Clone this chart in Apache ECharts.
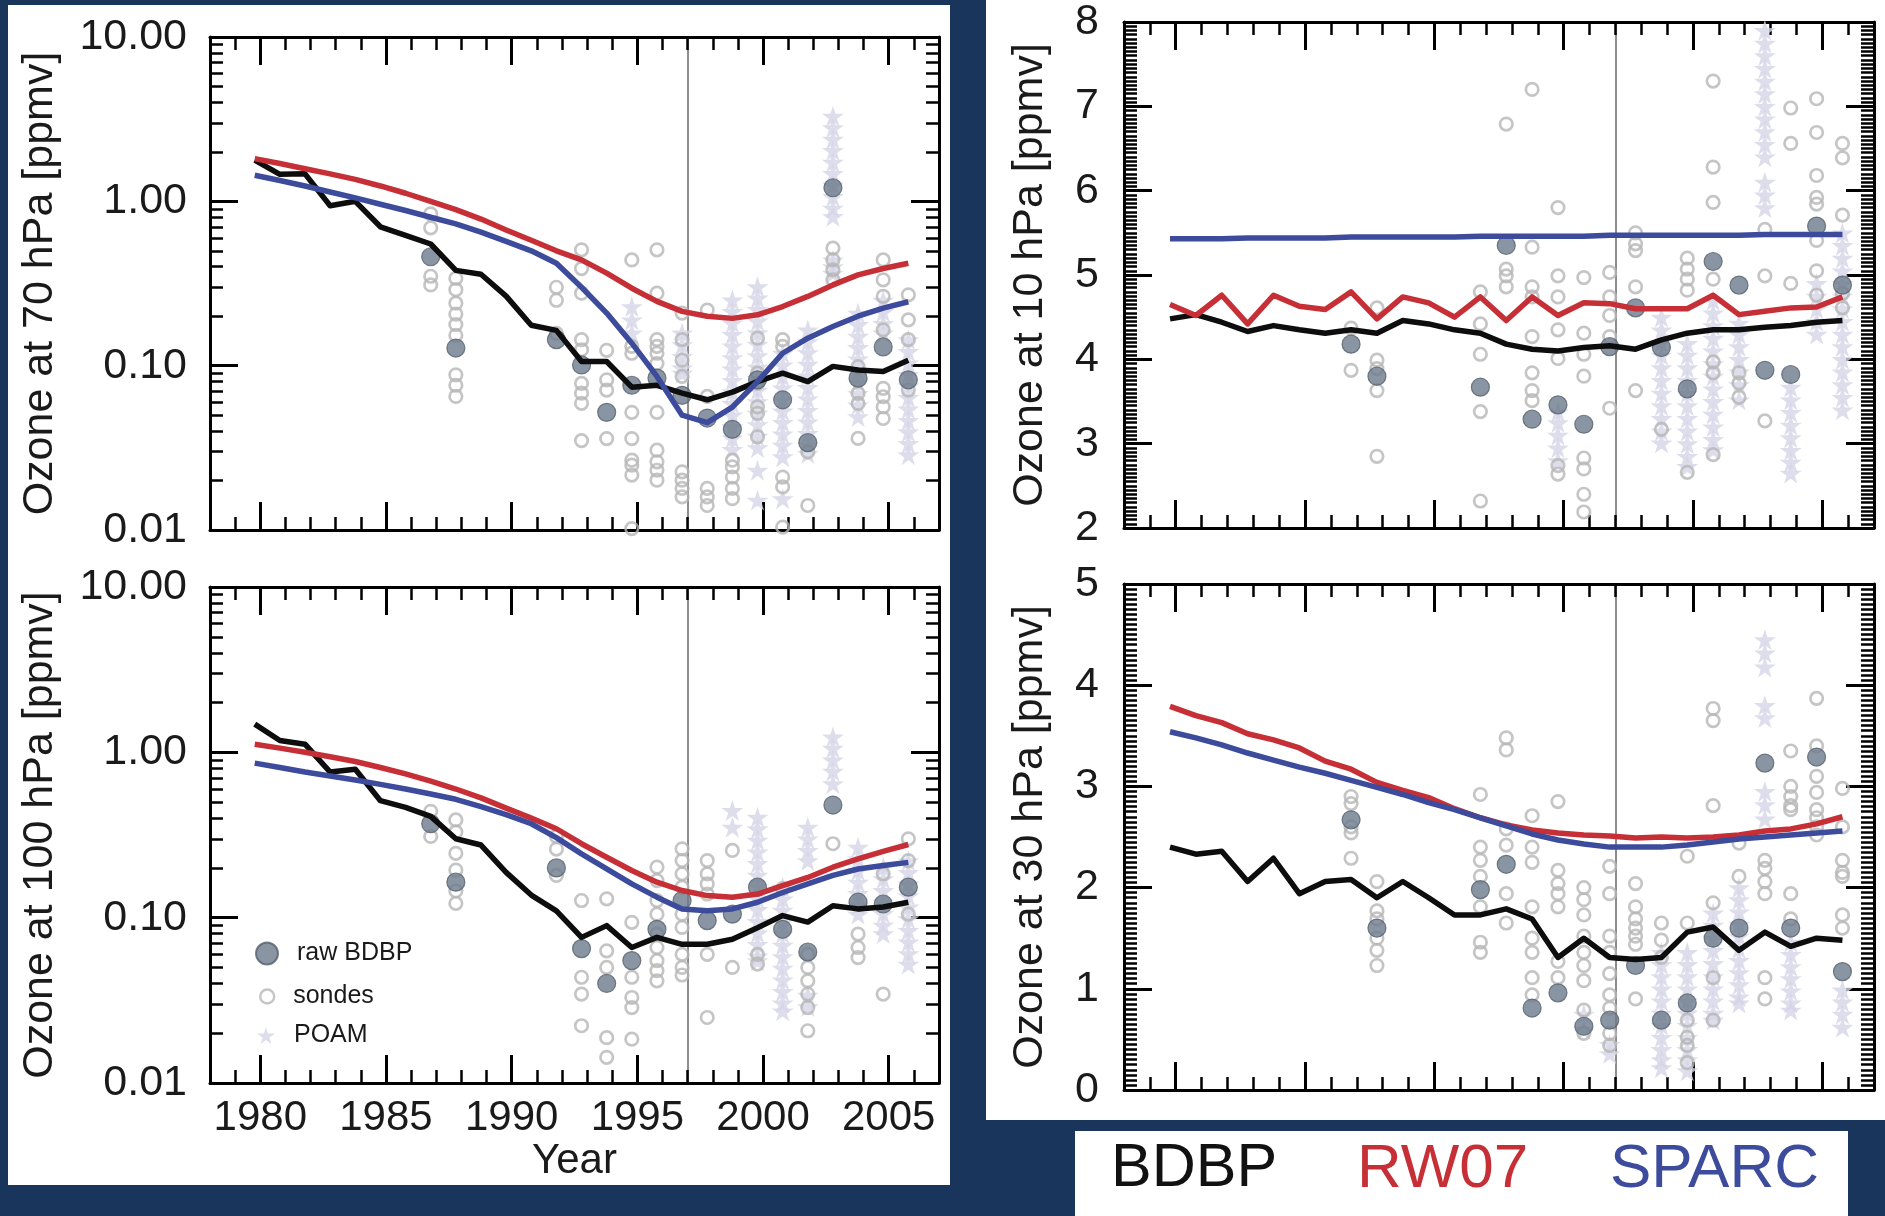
<!DOCTYPE html>
<html><head><meta charset="utf-8">
<script src="https://cdn.jsdelivr.net/npm/echarts@6/dist/echarts.min.js"></script>
<style>html,body{margin:0;padding:0;background:#1a355b;}#chart{width:1885px;height:1216px;}</style>
</head><body><div id="chart"></div>
<script>
// ---------------- DATA ----------------
const YEARS = [1979,1980,1981,1982,1983,1984,1985,1986,1987,1988,1989,1990,1991,1992,1993,1994,1995,1996,1997,1998,1999,2000,2001,2002,2003,2004,2005];
const SEASON_OFFSET = 0.78;   // observations plotted at early spring (fraction of year)
const REF_YEAR = 1997;
const YEAR_TICKS = [1980,1985,1990,1995,2000,2005];
const LOG_TICKS = [0.01,0.1,1,10];

// 70 hPa
const BDBP_70  = [1.78,1.46,1.47,0.94,1.00,0.70,0.62,0.55,0.38,0.36,0.265,0.176,0.164,0.106,0.106,0.074,0.076,0.068,0.062,0.069,0.080,0.090,0.080,0.099,0.094,0.092,0.108];
const RW07_70  = [1.82,1.70,1.58,1.47,1.36,1.24,1.12,1.00,0.89,0.78,0.67,0.58,0.50,0.44,0.366,0.296,0.246,0.214,0.200,0.194,0.204,0.229,0.264,0.310,0.357,0.390,0.420];
const SPARC_70 = [1.44,1.34,1.24,1.14,1.05,0.96,0.88,0.80,0.73,0.65,0.57,0.50,0.42,0.30,0.209,0.137,0.086,0.050,0.045,0.056,0.080,0.119,0.147,0.173,0.200,0.224,0.245];
const RAW_70 = [[1986,0.46],[1987,0.128],[1991,0.144],[1992,0.101],[1993,0.052],[1994,0.076],[1995,0.084],[1996,0.066],[1997,0.048],[1998,0.041],[1999,0.082],[2000,0.062],[2001,0.034],[2002,1.21],[2003,0.084],[2004,0.13],[2005,0.082]];
const SONDES_70 = [
  [1986,[0.84,0.69,0.35,0.31]],
  [1987,[0.34,0.29,0.24,0.206,0.178,0.153,0.088,0.076,0.065]],
  [1991,[0.30,0.25,0.157]],
  [1992,[0.507,0.39,0.276,0.144,0.125,0.078,0.068,0.059,0.035]],
  [1993,[0.124,0.082,0.071,0.036]],
  [1994,[0.44,0.131,0.119,0.052,0.036,0.0266,0.0248,0.0216,0.0102]],
  [1995,[0.507,0.276,0.144,0.131,0.119,0.103,0.052,0.0306,0.026,0.0231,0.0201]],
  [1996,[0.209,0.144,0.108,0.086,0.0226,0.0201,0.0179,0.0159]],
  [1997,[0.218,0.065,0.0179,0.0159,0.0141]],
  [1998,[0.0266,0.0242,0.021,0.0179,0.0155]],
  [1999,[0.147,0.09,0.078,0.0562,0.0512,0.0369]],
  [2000,[0.144,0.131,0.021,0.0183,0.0104]],
  [2001,[0.0299,0.0141]],
  [2002,[0.519,0.44,0.383,0.333]],
  [2003,[0.0986,0.0678,0.0589,0.0361]],
  [2004,[0.44,0.333,0.264,0.165,0.0728,0.0647,0.0562,0.0477]],
  [2005,[0.27,0.19,0.144,0.071]]
];
const POAM_70 = [
  [1994,[0.229,0.19,0.158]],
  [1996,[0.158,0.134,0.114,0.097,0.09]],
  [1998,[0.251,0.214,0.182,0.155,0.132,0.112,0.0955,0.0813,0.0692,0.0589,0.0501,0.0427,0.0363,0.0309]],
  [1999,[0.303,0.258,0.22,0.187,0.159,0.135,0.115,0.098,0.0835,0.071,0.0605,0.0515,0.0438,0.0373,0.0317,0.0231,0.0152]],
  [2000,[0.119,0.101,0.086,0.0733,0.0624,0.0531,0.0452,0.0385,0.0328,0.0279,0.0155]],
  [2001,[0.165,0.14,0.12,0.102,0.0867,0.0738,0.0628,0.0535,0.0455,0.0387,0.033,0.0292]],
  [2002,[3.30,2.81,2.39,2.04,1.73,1.48,1.26,1.07,0.91,0.81,0.44,0.40,0.366]],
  [2003,[0.209,0.178,0.151,0.129,0.11,0.0935,0.0796,0.0678,0.0577,0.049]],
  [2004,[0.25,0.213,0.181,0.158]],
  [2005,[0.144,0.122,0.104,0.0886,0.0754,0.0642,0.0546,0.0465,0.0396,0.0337,0.0287]]
];

// 100 hPa
const BDBP_100  = [1.48,1.18,1.12,0.76,0.79,0.51,0.465,0.41,0.30,0.275,0.188,0.137,0.110,0.076,0.0895,0.066,0.076,0.069,0.069,0.074,0.087,0.103,0.094,0.118,0.113,0.116,0.124];
const RW07_100  = [1.12,1.06,1.00,0.94,0.88,0.81,0.74,0.67,0.60,0.53,0.46,0.40,0.345,0.280,0.232,0.193,0.164,0.146,0.136,0.133,0.139,0.156,0.175,0.202,0.227,0.252,0.277];
const SPARC_100 = [0.86,0.81,0.76,0.72,0.68,0.64,0.60,0.56,0.52,0.47,0.42,0.37,0.305,0.243,0.197,0.160,0.133,0.113,0.110,0.113,0.124,0.142,0.160,0.180,0.197,0.207,0.216];
const RAW_100 = [[1986,0.37],[1987,0.164],[1991,0.20],[1992,0.065],[1993,0.040],[1994,0.055],[1995,0.085],[1996,0.127],[1997,0.096],[1998,0.105],[1999,0.153],[2000,0.085],[2001,0.062],[2002,0.48],[2003,0.124],[2004,0.121],[2005,0.153]];
const SONDES_100 = [
  [1986,[0.44,0.31]],
  [1987,[0.39,0.33,0.245,0.194,0.145,0.122]],
  [1991,[0.31,0.26,0.18]],
  [1992,[0.127,0.0436,0.0345,0.0222]],
  [1993,[0.13,0.063,0.050,0.0188,0.0143]],
  [1994,[0.0937,0.0436,0.0329,0.0286,0.0184]],
  [1995,[0.202,0.1676,0.127,0.105,0.0796,0.066,0.0549,0.0478,0.0415]],
  [1996,[0.261,0.2215,0.184,0.153,0.105,0.0873,0.06,0.05,0.045]],
  [1997,[0.2215,0.184,0.16,0.139,0.06,0.0249]],
  [1998,[0.255,0.05]],
  [1999,[0.06,0.0524]],
  [2000,[0.15]],
  [2001,[0.06,0.05,0.0415,0.0345,0.0286,0.0207]],
  [2002,[0.28]],
  [2003,[0.0796,0.066,0.0574]],
  [2004,[0.184,0.0345]],
  [2005,[0.30,0.2215,0.105]]
];
const POAM_100 = [
  [1998,[0.445,0.353]],
  [1999,[0.406,0.345,0.294,0.25,0.213,0.181,0.154,0.131,0.112,0.095,0.081,0.069,0.0587,0.0549]],
  [2000,[0.153,0.13,0.111,0.0944,0.0803,0.0683,0.0581,0.0495,0.0421,0.0358,0.0305,0.0273]],
  [2001,[0.353,0.3,0.255,0.2215,0.034,0.029]],
  [2002,[1.24,1.06,0.9,0.77,0.646]],
  [2003,[0.267,0.227,0.193,0.164,0.14,0.119,0.105]],
  [2004,[0.202,0.172,0.146,0.124,0.106,0.09,0.08]],
  [2005,[0.2215,0.188,0.16,0.136,0.116,0.0985,0.0838,0.0713,0.0606,0.0524]]
];

// 10 hPa
const BDBP_10  = [4.48,4.53,4.44,4.33,4.40,4.35,4.31,4.35,4.31,4.46,4.42,4.35,4.31,4.18,4.12,4.10,4.14,4.16,4.12,4.23,4.31,4.35,4.35,4.38,4.40,4.44,4.46];
const RW07_10  = [4.65,4.52,4.76,4.42,4.76,4.63,4.59,4.80,4.48,4.74,4.67,4.50,4.74,4.46,4.74,4.52,4.67,4.66,4.60,4.60,4.60,4.76,4.53,4.57,4.61,4.62,4.74];
const SPARC_10 = [5.43,5.43,5.43,5.44,5.44,5.44,5.44,5.45,5.45,5.45,5.45,5.45,5.46,5.46,5.46,5.46,5.46,5.47,5.47,5.47,5.47,5.47,5.47,5.48,5.48,5.48,5.48];
const RAW_10 = [[1986,4.18],[1987,3.80],[1991,3.67],[1992,5.35],[1993,3.29],[1994,3.46],[1995,3.23],[1996,4.15],[1997,4.61],[1998,4.14],[1999,3.65],[2000,5.16],[2001,4.88],[2002,3.87],[2003,3.82],[2004,5.58],[2005,4.88]];
const SONDES_10 = [
  [1986,[4.37,3.87]],
  [1987,[4.61,3.99,3.89,3.63,2.85]],
  [1991,[4.80,4.42,4.06,3.38,2.32]],
  [1992,[6.79,5.07,4.99,4.86]],
  [1993,[7.20,5.33,4.86,4.74,4.27,3.84,3.63,3.51]],
  [1994,[5.80,4.99,4.74,4.35,4.01,2.74,2.64]],
  [1995,[4.97,4.31,4.06,3.80,2.83,2.70,2.40,2.19]],
  [1996,[5.03,4.74,4.52,4.27,3.42]],
  [1997,[5.50,5.37,5.29,4.86,3.63]],
  [1998,[3.17]],
  [1999,[5.20,5.07,4.95,4.82,2.66]],
  [2000,[7.30,6.28,5.86,4.95,3.97,3.84,2.87]],
  [2001,[3.84,3.72,3.55]],
  [2002,[5.54,4.99,3.27]],
  [2003,[6.98,6.56,4.90]],
  [2004,[7.09,6.69,6.18,5.92,5.84,5.41,5.05,4.76]],
  [2005,[6.56,6.39,5.71,4.78,4.61]]
];
const POAM_10 = [
  [1994,[3.38,3.25,3.1,2.95,2.8]],
  [1998,[4.50,4.35,4.2,4.05,3.9,3.75,3.6,3.45,3.3,3.15,3.01]],
  [1999,[4.19,4.05,3.9,3.75,3.6,3.45,3.3,3.15,3.0,2.85,2.73]],
  [2000,[4.70,4.55,4.4,4.25,4.1,3.95,3.8,3.65,3.5,3.35,3.2,3.05,2.93]],
  [2001,[4.43,4.3,4.15,4.0,3.85,3.7,3.52]],
  [2002,[8.05,7.9,7.75,7.6,7.45,7.3,7.15,7.0,6.85,6.7,6.55,6.4,6.1,5.95,5.8]],
  [2003,[3.67,3.52,3.37,3.22,3.07,2.92,2.78,2.65]],
  [2004,[4.9,4.75,4.6,4.45,4.3]],
  [2005,[5.5,5.35,5.2,5.05,4.9,4.75,4.6,4.45,4.3,4.15,4.0,3.85,3.7,3.55,3.4]]
];

// 30 hPa
const BDBP_30  = [2.40,2.33,2.36,2.06,2.29,1.94,2.06,2.08,1.90,2.06,1.90,1.73,1.73,1.79,1.69,1.31,1.50,1.31,1.29,1.31,1.56,1.61,1.38,1.56,1.42,1.50,1.48];
const RW07_30  = [3.79,3.70,3.63,3.52,3.46,3.38,3.25,3.17,3.04,2.96,2.89,2.78,2.69,2.62,2.57,2.54,2.52,2.51,2.49,2.50,2.49,2.50,2.52,2.56,2.58,2.63,2.70];
const SPARC_30 = [3.54,3.48,3.41,3.33,3.26,3.19,3.13,3.06,2.99,2.92,2.84,2.77,2.69,2.61,2.53,2.47,2.43,2.40,2.40,2.40,2.42,2.45,2.48,2.50,2.52,2.54,2.56];
const RAW_30 = [[1986,2.67],[1987,1.60],[1991,1.98],[1992,2.23],[1993,0.81],[1994,0.96],[1995,0.63],[1996,0.69],[1997,1.23],[1998,0.69],[1999,0.86],[2000,1.50],[2001,1.60],[2002,3.23],[2003,1.60],[2004,3.29],[2005,1.17]];
const SONDES_30 = [
  [1986,[2.90,2.83,2.60,2.54,2.29]],
  [1987,[2.06,1.77,1.69,1.50,1.38,1.23]],
  [1991,[2.92,2.40,2.27,2.11,1.81,1.46,1.36]],
  [1992,[3.48,3.36,2.58,2.42,1.94,1.65]],
  [1993,[2.71,2.40,2.25,1.81,1.50,1.36,1.11,0.94]],
  [1994,[2.85,2.17,2.04,1.94,1.81,1.27,1.11]],
  [1995,[2.0,1.88,1.73,1.52,1.36,1.23,1.08,0.79,0.56]],
  [1996,[2.21,1.94,1.52,1.36,1.15,0.94,0.81,0.56,0.44]],
  [1997,[2.04,1.81,1.69,1.60,1.52,1.44,0.90]],
  [1998,[1.65,1.48,1.31]],
  [1999,[2.31,1.65,0.69,0.52,0.44,0.27]],
  [2000,[3.77,3.65,2.81,1.85,1.11,0.69]],
  [2001,[2.44,2.11]],
  [2002,[2.27,2.19,2.06,1.94,1.11,0.90]],
  [2003,[3.35,3.0,2.90,2.81,2.77,1.94,1.69]],
  [2004,[3.87,3.40,3.10,2.94,2.77,2.69,2.60,2.52]],
  [2005,[2.98,2.60,2.27,2.15,2.11,1.73,1.60]]
];
const POAM_30 = [
  [1995,[0.75,0.6]],
  [1996,[0.45,0.36]],
  [1998,[1.36,1.24,1.12,1.0,0.88,0.76,0.64,0.52,0.4,0.3,0.22]],
  [1999,[1.36,1.24,1.12,1.0,0.88,0.76,0.64,0.52,0.4,0.3,0.19]],
  [2000,[1.75,1.63,1.5,1.38,1.25,1.12,1.0,0.88,0.76,0.69]],
  [2001,[2.0,1.88,1.76,1.64,1.52,1.4,1.28,1.16,1.04,0.92,0.86]],
  [2002,[4.45,4.32,4.18,3.8,3.68,2.95,2.82,2.68]],
  [2003,[1.46,1.34,1.22,1.1,0.98,0.86,0.79]],
  [2005,[0.99,0.87,0.75,0.62]]
];

// ---------------- LAYOUT / STYLE ----------------
const FONT = "'Liberation Sans', Arial, Helvetica, sans-serif";
const TXT = '#1a1a1a';
const COLORS = {BDBP:'#0d0d0d', RW07:'#c62f36', SPARC:'#3d4b9c', raw:'#6c7b8b', sonde:'#b6b6b6', poam:'#d4d5e7', ref:'#8c8c8c'};
const STAR = 'path://M50,0 L61,35 L98,35 L68,57 L79,91 L50,70 L21,91 L32,57 L2,35 L39,35 Z';

const PANELS = [
  {name:'Ozone at 70 hPa [ppmv]',  grid:{left:210, top:37,  width:729, height:493}, log:true,  min:0.01, max:10, xLabels:false, nameGap:148,
   lines:[BDBP_70,RW07_70,SPARC_70], raw:RAW_70, sondes:SONDES_70, poam:POAM_70},
  {name:'Ozone at 100 hPa [ppmv]', grid:{left:210, top:587, width:729, height:496}, log:true,  min:0.01, max:10, xLabels:true, nameGap:148,
   lines:[BDBP_100,RW07_100,SPARC_100], raw:RAW_100, sondes:SONDES_100, poam:POAM_100},
  {name:'Ozone at 10 hPa [ppmv]',  grid:{left:1124, top:22,  width:750, height:506}, log:false, min:2, max:8, xLabels:false, nameGap:72,
   lines:[BDBP_10,RW07_10,SPARC_10], raw:RAW_10, sondes:SONDES_10, poam:POAM_10},
  {name:'Ozone at 30 hPa [ppmv]',  grid:{left:1124, top:584, width:750, height:506}, log:false, min:0, max:5, xLabels:false, nameGap:72,
   lines:[BDBP_30,RW07_30,SPARC_30], raw:RAW_30, sondes:SONDES_30, poam:POAM_30}
];

// tick positions (decoration)
const YEAR_MINOR = []; for (let y = 1978; y <= 2007; y++) YEAR_MINOR.push(y);
const LOG_MINOR = []; [0.01,0.1,1].forEach(d => { for (let k = 2; k <= 9; k++) LOG_MINOR.push(+(k*d).toPrecision(3)); });
function linTicks(min, max, step) { const a = []; for (let v = min; v <= max + 1e-9; v += step) a.push(+v.toFixed(3)); return a; }

const MAJOR_LEN = 28, MINOR_LEN = 13;
const tickStyle = w => ({color:'#000', width:w});

const grids = [], xAxes = [], yAxes = [], series = [];
PANELS.forEach((p, gi) => {
  grids.push(Object.assign({show:false}, p.grid));
  const xb = (pos, major) => ({
    gridIndex: gi, type:'value', min:1978, max:2007, position: pos,
    splitLine:{show:false},
    axisLine:{show: major, onZero:false, lineStyle:{color:'#000', width:3}},
    axisTick:{show:true, inside:true, length: major ? MAJOR_LEN : MINOR_LEN, lineStyle: tickStyle(major ? 3 : 2.5),
              customValues: major ? YEAR_TICKS : YEAR_MINOR},
    axisLabel:{show: major && pos === 'bottom' && p.xLabels, customValues: YEAR_TICKS, fontSize:42, color:TXT, fontFamily:FONT, margin:14,
               formatter: v => String(v)},
    name: (major && pos === 'bottom' && p.xLabels) ? 'Year' : '',
    nameLocation:'middle', nameGap:57, nameTextStyle:{fontSize:42, color:TXT, fontFamily:FONT}
  });
  xAxes.push(xb('bottom', true), xb('bottom', false), xb('top', true), xb('top', false));
  const majVals = p.log ? LOG_TICKS : linTicks(p.min, p.max, 1);
  const minVals = p.log ? LOG_MINOR : linTicks(p.min, p.max, 0.05);
  const yb = (pos, major) => {
    const a = {
      gridIndex: gi, type: p.log ? 'log' : 'value', min:p.min, max:p.max, position: pos,
      splitLine:{show:false},
      axisLine:{show: major, onZero:false, lineStyle:{color:'#000', width:3}},
      axisTick:{show:true, inside:true, length: major ? MAJOR_LEN : MINOR_LEN, lineStyle: tickStyle(major ? 3 : 2.5),
                customValues: major ? majVals : minVals},
      axisLabel:{show: major && pos === 'left', customValues: majVals, fontSize:43, color:TXT, fontFamily:FONT, margin: p.log ? 23 : 25,
                 formatter: v => p.log ? Number(v).toFixed(2) : String(Math.round(v))},
      name: (major && pos === 'left') ? p.name : '',
      nameLocation:'middle', nameRotate:90, nameGap:p.nameGap,
      nameTextStyle:{fontSize:43, color:TXT, fontFamily:FONT}
    };
    if (p.log) a.logBase = 10;
    return a;
  };
  yAxes.push(yb('left', true), yb('left', false), yb('right', true), yb('right', false));

  const xi = gi*4, yi = gi*4;
  const cols = arr => { const out = []; arr.forEach(([yr, vals]) => vals.forEach(v => out.push([yr + SEASON_OFFSET, v]))); return out; };
  series.push({
    type:'scatter', name:'POAM', xAxisIndex:xi, yAxisIndex:yi, z:1,
    symbol:STAR, symbolSize:22, symbolKeepAspect:true,
    itemStyle:{color:COLORS.poam},
    data: cols(p.poam),
    markLine:{silent:true, symbol:['none','none'], label:{show:false}, z:0,
      lineStyle:{color:COLORS.ref, width:2, type:'solid'}, data:[{xAxis: REF_YEAR}]}
  });
  series.push({
    type:'scatter', name:'sondes', xAxisIndex:xi, yAxisIndex:yi, z:2,
    symbol:'circle', symbolSize:12.5, symbolKeepAspect:true,
    itemStyle:{color:'rgba(255,255,255,0)', borderColor:COLORS.sonde, borderWidth:2.7},
    data: cols(p.sondes)
  });
  series.push({
    type:'scatter', name:'raw BDBP', xAxisIndex:xi, yAxisIndex:yi, z:3,
    symbol:'circle', symbolSize:18, symbolKeepAspect:true,
    itemStyle:{color:COLORS.raw, borderColor:'#56616e', borderWidth:1.2},
    data: p.raw.map(([yr, v]) => [yr + SEASON_OFFSET, v])
  });
  ['BDBP','RW07','SPARC'].forEach((nm, k) => {
    series.push({
      type:'line', name:nm, xAxisIndex:xi, yAxisIndex:yi, z:4+k,
      symbol:'none', smooth:false, silent:true,
      lineStyle:{color:COLORS[nm], width:5.5, join:'round'},
      itemStyle:{color:COLORS[nm]},
      data: YEARS.map((yr, i) => [yr + SEASON_OFFSET, p.lines[k][i]])
    });
  });
});

const legendCommon = {orient:'vertical', padding:0, selectedMode:false, textStyle:{fontSize:25, color:TXT, fontFamily:FONT, padding:[0,0,0,14]}};
const legends = [
  Object.assign({}, legendCommon, {left:255, top:941, itemWidth:22, itemHeight:22, data:['raw BDBP']}),
  Object.assign({}, legendCommon, {left:259, top:984, itemWidth:14, itemHeight:14, data:['sondes'], itemStyle:{borderWidth:2.4}}),
  Object.assign({}, legendCommon, {left:257, top:1023, itemWidth:18, itemHeight:18, data:['POAM']}),
  {left:1105, top:1139, padding:0, selectedMode:false, itemWidth:0, itemHeight:0, itemGap:0,
   textStyle:{fontSize:61, fontFamily:FONT}, data:[{name:'BDBP', textStyle:{color:'#111'}}]},
  {left:1351, top:1139, padding:0, selectedMode:false, itemWidth:0, itemHeight:0, itemGap:0,
   textStyle:{fontSize:62, fontFamily:FONT}, data:[{name:'RW07', textStyle:{color:COLORS.RW07}}]},
  {left:1604, top:1139, padding:0, selectedMode:false, itemWidth:0, itemHeight:0, itemGap:0,
   textStyle:{fontSize:62, fontFamily:FONT}, data:[{name:'SPARC', textStyle:{color:COLORS.SPARC}}]}
];

const chart = echarts.init(document.getElementById('chart'), null, {renderer:'canvas', width:1885, height:1216});
chart.setOption({
  backgroundColor:'#1a355b',
  animation:false,
  graphic:[
    {type:'rect', z:-10, shape:{x:8, y:5, width:942, height:1180}, style:{fill:'#fff'}},
    {type:'rect', z:-10, shape:{x:986, y:0, width:899, height:1120}, style:{fill:'#fff'}},
    {type:'rect', z:-10, shape:{x:1075, y:1131, width:773, height:85}, style:{fill:'#fff'}}
  ],
  grid: grids,
  xAxis: xAxes,
  yAxis: yAxes,
  legend: legends,
  series: series
});
</script></body></html>
